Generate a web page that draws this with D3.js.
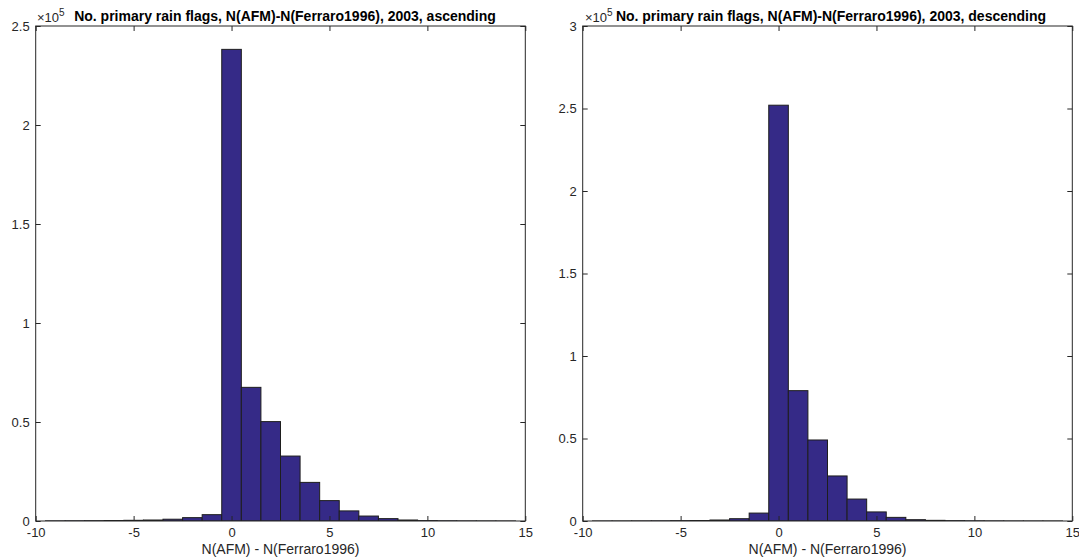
<!DOCTYPE html>
<html>
<head>
<meta charset="utf-8">
<script src="https://cdnjs.cloudflare.com/ajax/libs/d3/7.8.5/d3.min.js"></script>
<style>
  body { margin: 0; background: #fff; }
  svg { display: block; font-family: "Liberation Sans", Arial, Helvetica, sans-serif; }
  .axis text { font-size: 13px; fill: #262626; }
  .axis line { stroke: #262626; }
  .axis path { display: none; }
</style>
</head>
<body>
<svg id="chart" width="1079" height="557"></svg>
<script>
// bin centres (bin width 1)
var binCenters = [-9, -8, -7, -6, -5, -4, -3, -2, -1, 0, 1, 2, 3, 4, 5, 6, 7, 8, 9, 10, 11, 12, 13, 14];

// counts per bin
var ascendingCounts = [60, 100, 150, 250, 350, 500, 900, 1700, 3200, 238200, 67500, 50200, 32800, 19500, 10300, 5100, 2500, 1200, 500, 200, 100, 50, 30, 10];
var descendingCounts = [20, 30, 60, 100, 200, 300, 600, 1400, 4800, 252000, 79000, 49100, 27300, 13300, 5500, 2200, 800, 400, 200, 100, 50, 20, 10, 5];

var xTicks = [-10, -5, 0, 5, 10, 15];
var ascYTicks = [0, 0.5e5, 1e5, 1.5e5, 2e5, 2.5e5];
var descYTicks = [0, 0.5e5, 1e5, 1.5e5, 2e5, 2.5e5, 3e5];

var titles = [
  "No. primary rain flags, N(AFM)-N(Ferraro1996), 2003, ascending",
  "No. primary rain flags, N(AFM)-N(Ferraro1996), 2003, descending"
];
var xLabel = "N(AFM) - N(Ferraro1996)";

var svg = d3.select("#chart");
var top0 = 26, bottom0 = 521;

draw_hist(35.7, 525.3, ascendingCounts, [0, 2.5e5], ascYTicks, titles[0], 285, 37);
draw_hist(582.7, 1072.3, descendingCounts, [0, 3e5], descYTicks, titles[1], 831, 585);

function draw_hist(left, right, counts, yDomain, yTicks, title, titleX, expX){
  var x = d3.scaleLinear().domain([-10, 15]).range([left, right]);
  var y = d3.scaleLinear().domain(yDomain).range([bottom0, top0]);
  var fmt = function(d){ return String(+(d / 1e5).toFixed(2)); };

  var g = svg.append("g");
  var clipId = "clip" + Math.round(left);
  g.append("clipPath").attr("id", clipId)
    .append("rect")
      .attr("x", left).attr("y", top0)
      .attr("width", right - left).attr("height", bottom0 - top0);

  g.append("g")
    .attr("clip-path", "url(#" + clipId + ")")
    .selectAll("rect")
    .data(binCenters)
    .enter().append("rect")
      .attr("x", function(d){ return x(d - 0.5); })
      .attr("y", function(d, i){ return y(counts[i]); })
      .attr("width", function(d){ return x(d + 0.5) - x(d - 0.5); })
      .attr("height", function(d, i){ return y(0) - y(counts[i]); })
      .attr("fill", "#352a87")
      .attr("stroke", "#1e1e1e")
      .attr("stroke-width", 1);

  // axes, ticks pointing inward
  g.append("g").attr("class", "axis")
    .attr("transform", "translate(0," + bottom0 + ")")
    .call(d3.axisBottom(x).tickValues(xTicks).tickSize(-5).tickSizeOuter(0).tickPadding(7)
      .tickFormat(function(d){ return String(d); }));
  g.append("g").attr("class", "axis")
    .attr("transform", "translate(0," + top0 + ")")
    .call(d3.axisTop(x).tickValues(xTicks).tickSize(-5).tickSizeOuter(0).tickFormat(""));
  g.append("g").attr("class", "axis")
    .attr("transform", "translate(" + left + ",0)")
    .call(d3.axisLeft(y).tickValues(yTicks).tickSize(-5).tickSizeOuter(0).tickPadding(6).tickFormat(fmt));
  g.append("g").attr("class", "axis")
    .attr("transform", "translate(" + right + ",0)")
    .call(d3.axisRight(y).tickValues(yTicks).tickSize(-5).tickSizeOuter(0).tickFormat(""));

  g.append("rect")
    .attr("x", left).attr("y", top0)
    .attr("width", right - left).attr("height", bottom0 - top0)
    .attr("fill", "none")
    .attr("stroke", "#262626")
    .attr("stroke-width", 1);

  // exponent
  var ex = g.append("text")
    .attr("x", expX).attr("y", 22)
    .attr("fill", "#262626")
    .style("font-size", "13px");
  ex.append("tspan").text("\u00d710");
  ex.append("tspan").attr("dy", -6).style("font-size", "10px").text("5");

  g.append("text")
    .attr("x", titleX).attr("y", 21)
    .attr("text-anchor", "middle")
    .attr("fill", "#000")
    .style("font-size", "14px")
    .style("font-weight", "bold")
    .text(title);

  g.append("text")
    .attr("x", (left + right) / 2).attr("y", 554)
    .attr("text-anchor", "middle")
    .attr("fill", "#262626")
    .style("font-size", "14px")
    .text(xLabel);
}
</script>
</body>
</html>
